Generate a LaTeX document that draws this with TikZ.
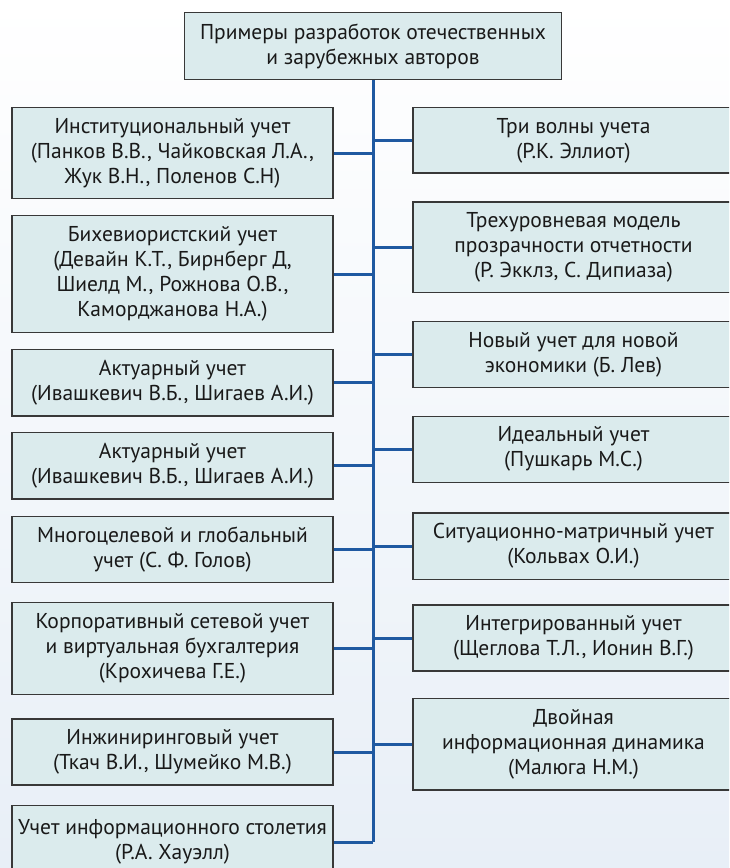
\documentclass[tikz,border=0pt]{standalone}
\usepackage{fontspec}
\usepackage{tikz}
\newfontfamily\boxfont{PT Sans}
\definecolor{mblue}{rgb}{0.12, 0.35, 0.63}
\definecolor{boxfill}{rgb}{0.86, 0.92, 0.93}
\definecolor{boxline}{rgb}{0.22, 0.22, 0.22}
\definecolor{seablue}{rgb}{0.80, 0.86, 0.93}
\tikzset{item/.style = {draw=boxline, line width=1.3pt, fill=boxfill,
                        minimum width=321pt, inner sep=0pt, align=center,
                        text=black!90,
                        font=\boxfont\fontsize{21.5}{25}\selectfont}}
\tikzset{link/.style = {draw=mblue, line width=3pt}}

\begin{document}
\begin{tikzpicture}[x=1pt, y=-1pt]
      \useasboundingbox (0, 0) rectangle (729, 868);
      \clip (0, 0) rectangle (729, 868);
      \shade [top color=white, middle color=seablue, bottom color=seablue!45] (0, 0) rectangle (729, 868);

      \node [item, minimum width=377pt, minimum height=66.6pt] (root) at (373, 46)
        {Примеры разработок отечественных\\и зарубежных авторов};

      % left column
      \node [item, minimum height=91pt] (l1) at (172.5, 153.2)
        {Институциональный учет\\(Панков В.В., Чайковская Л.А.,\\Жук В.Н., Поленов С.Н)};
      \node [item, minimum height=117pt] (l2) at (172.5, 274.2)
        {Бихевиористский учет\\(Девайн К.Т., Бирнберг Д,\\Шиелд М., Рожнова О.В.,\\Каморджанова Н.А.)};
      \node [item, minimum height=66.3pt] (l3) at (172.5, 382.9)
        {Актуарный учет\\(Ивашкевич В.Б., Шигаев А.И.)};
      \node [item, minimum height=66.3pt] (l4) at (172.5, 465.9)
        {Актуарный учет\\(Ивашкевич В.Б., Шигаев А.И.)};
      \node [item, minimum height=66.4pt] (l5) at (172.5, 549.5)
        {Многоцелевой и глобальный\\учет (С. Ф. Голов)};
      \node [item, minimum height=91.6pt] (l6) at (172.5, 648.5)
        {Корпоративный сетевой учет\\и виртуальная бухгалтерия\\(Крохичева Г.Е.)};
      \node [item, minimum height=66pt] (l7) at (172.5, 752)
        {Инжиниринговый учет\\(Ткач В.И., Шумейко М.В.)};
      \node [item, minimum height=73.3pt] (l8) at (172.5, 842.3)
        {Учет информационного столетия\\(Р.А. Хауэлл)};

      % right column
      \node [item, minimum height=65.3pt] (r1) at (573.5, 140.4)
        {Три волны учета\\(Р.К. Эллиот)};
      \node [item, minimum height=90.7pt] (r2) at (573.5, 247.4)
        {Трехуровневая модель\\прозрачности отчетности\\(Р. Экклз, С. Дипиаза)};
      \node [item, minimum height=66pt] (r3) at (573.5, 354.7)
        {Новый учет для новой\\экономики (Б. Лев)};
      \node [item, minimum height=66pt] (r4) at (573.5, 449.3)
        {Идеальный учет\\(Пушкарь М.С.)};
      \node [item, minimum height=66.3pt] (r5) at (573.5, 546.2)
        {Ситуационно-матричный учет\\(Кольвах О.И.)};
      \node [item, minimum height=66pt] (r6) at (573.5, 638)
        {Интегрированный учет\\(Щеглова Т.Л., Ионин В.Г.)};
      \node [item, minimum height=91.7pt] (r7) at (573.5, 744.2)
        {Двойная\\информационная динамика\\(Малюга Н.М.)};

      % trunk and branches
      \coordinate (trunkend) at (373, 842.3);
      \draw [link] (root.south) -- (trunkend);
      \draw [link] (l1.east) -- (l1.east -| root.south);
      \draw [link] (l2.east) -- (l2.east -| root.south);
      \draw [link] (l3.east) -- (l3.east -| root.south);
      \draw [link] (l4.east) -- (l4.east -| root.south);
      \draw [link] (l5.east) -- (l5.east -| root.south);
      \draw [link] (l6.east) -- (l6.east -| root.south);
      \draw [link] (l7.east) -- (l7.east -| root.south);
      \draw [link] (l8.east) -- (trunkend);
      \draw [link] (r1.west) -- (r1.west -| root.south);
      \draw [link] (r2.west) -- (r2.west -| root.south);
      \draw [link] (r3.west) -- (r3.west -| root.south);
      \draw [link] (r4.west) -- (r4.west -| root.south);
      \draw [link] (r5.west) -- (r5.west -| root.south);
      \draw [link] (r6.west) -- (r6.west -| root.south);
      \draw [link] (r7.west) -- (r7.west -| root.south);
    \end{tikzpicture}
\end{document}
